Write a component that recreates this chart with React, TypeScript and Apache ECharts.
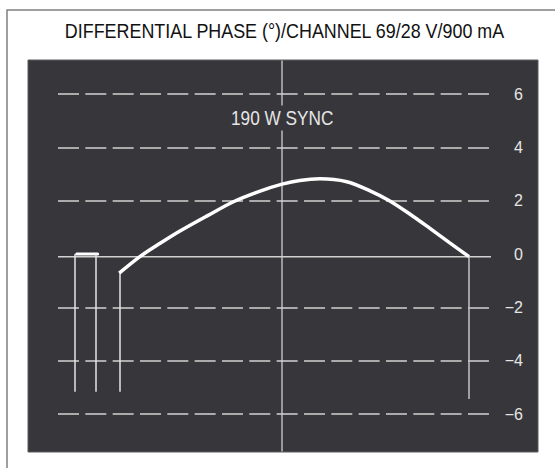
import React, { useEffect, useRef } from "react";
import * as echarts from "echarts";

// ---- data ----
const yTicks = [-6, -4, -2, 0, 2, 4, 6];
const curveX = [14.2, 19.0, 23.7, 28.3, 34.5, 40.7, 46.9, 52.0, 56.1, 60.8, 67.0, 72.4, 77.0, 81.7, 86.3, 90.9, 95.36];
const curveY = [-0.72, -0.1, 0.4, 0.86, 1.42, 1.96, 2.36, 2.62, 2.76, 2.82, 2.71, 2.37, 1.99, 1.49, 0.96, 0.42, -0.1];
const pulseX = [3.78, 8.75, 14.22];
const pulseTop = [0, 0, -0.72];
const pulseBottom = [-5.17, -5.17, -5.17];
const endSpikeX = [95.36];
const endSpikeTop = [-0.1];
const endSpikeBottom = [-5.44];
const syncBarX = [4.34, 9.21];
const syncBarY = [0, 0];
const zeroLineX = [0, 103.5];
const zeroLineY = [-0.1, -0.1];
const titleText = "DIFFERENTIAL PHASE (°)/CHANNEL 69/28 V/900 mA";
const noteText = "190 W SYNC";

const PANEL = "#37363b";
const GRIDC = "#d2d2d2";

export default function App() {
  const ref = useRef<HTMLDivElement>(null);
  useEffect(() => {
    if (!ref.current) return;
    const chart = echarts.init(ref.current, undefined, { renderer: "svg" });
    const curve = curveX.map((x, i) => [x, curveY[i]]);
    const pulseLines = pulseX.map((x, i) => [
      { coord: [x, pulseTop[i]] },
      { coord: [x, pulseBottom[i]] },
    ]);
    const endLines = endSpikeX.map((x, i) => [
      { coord: [x, endSpikeTop[i]] },
      { coord: [x, endSpikeBottom[i]] },
    ]);
    const splitColors = yTicks.map((t) => (t === 0 ? "rgba(0,0,0,0)" : GRIDC));
    chart.setOption({
      animation: false,
      backgroundColor: "#ffffff",
      grid: { left: 58, top: 94, width: 431, height: 320, containLabel: false },
      xAxis: { type: "value", min: 0, max: 100, show: false },
      yAxis: {
        type: "value",
        min: -6,
        max: 6,
        interval: 2,
        position: "right",
        axisLine: { show: false },
        axisTick: { show: false },
        axisLabel: {
          align: "right",
          margin: 34,
          color: "#e6e6e6",
          fontSize: 16,
          fontFamily: "Liberation Sans, Arial, sans-serif",
          formatter: (v: number) => (v < 0 ? "\u2212" + Math.abs(v) : String(v)),
        },
        splitLine: {
          show: true,
          lineStyle: { color: splitColors, width: 1.5, type: [21, 6.33] },
        },
      },
      graphic: [
        {
          type: "rect",
          z: -20,
          shape: { x: 7, y: 10, width: 620, height: 520 },
          style: { fill: "#ffffff", stroke: "#808080", lineWidth: 1.5 },
        },
        {
          type: "rect",
          z: -10,
          shape: { x: 28, y: 60, width: 510, height: 392 },
          style: { fill: PANEL, stroke: "#5c5b60", lineWidth: 1 },
        },
        {
          type: "line",
          z: 1,
          shape: { x1: 282, y1: 60.5, x2: 282, y2: 451.5 },
          style: { stroke: "#cfcfcf", lineWidth: 1.3 },
        },
        {
          type: "text",
          z: 20,
          x: 284.5,
          y: 31.5,
          scaleX: 0.895,
          style: {
            text: titleText,
            fontSize: 20,
            fontFamily: "Liberation Sans, Arial, sans-serif",
            fill: "#111111",
            align: "center",
            verticalAlign: "middle",
            textAlign: "center",
            textVerticalAlign: "middle",
          },
        },
        {
          type: "text",
          z: 20,
          x: 282.2,
          y: 118,
          scaleX: 0.82,
          style: {
            text: noteText,
            fontSize: 21,
            fontFamily: "Liberation Sans, Arial, sans-serif",
            fill: "#e6e6e6",
            align: "center",
            verticalAlign: "middle",
            textAlign: "center",
            textVerticalAlign: "middle",
            backgroundColor: PANEL,
            padding: [2, 4],
          },
        },
      ],
      series: [
        {
          type: "line",
          data: zeroLineX.map((x, i) => [x, zeroLineY[i]]),
          clip: false,
          symbol: "none",
          lineStyle: { color: GRIDC, width: 1.5 },
          z: 3,
          silent: true,
        },
        {
          type: "line",
          data: syncBarX.map((x, i) => [x, syncBarY[i]]),
          symbol: "none",
          lineStyle: { color: "#ffffff", width: 3, cap: "round" },
          z: 4,
          silent: true,
          markLine: {
            silent: true,
            symbol: "none",
            label: { show: false },
            lineStyle: { color: "#e4e4e4", width: 1.5, type: "solid" },
            data: pulseLines,
          },
        },
        {
          type: "line",
          data: curve,
          smooth: 0.3,
          symbol: "none",
          lineStyle: { color: "#ffffff", width: 3.5 },
          z: 5,
          silent: true,
          markLine: {
            silent: true,
            symbol: "none",
            label: { show: false },
            lineStyle: { color: "#c4c4c4", width: 1.5, type: "solid" },
            data: endLines,
          },
        },
      ],
    });
    return () => chart.dispose();
  }, []);
  return (
    <div
      ref={ref}
      style={{ position: "absolute", left: 0, top: 0, width: 555, height: 468 }}
    />
  );
}
